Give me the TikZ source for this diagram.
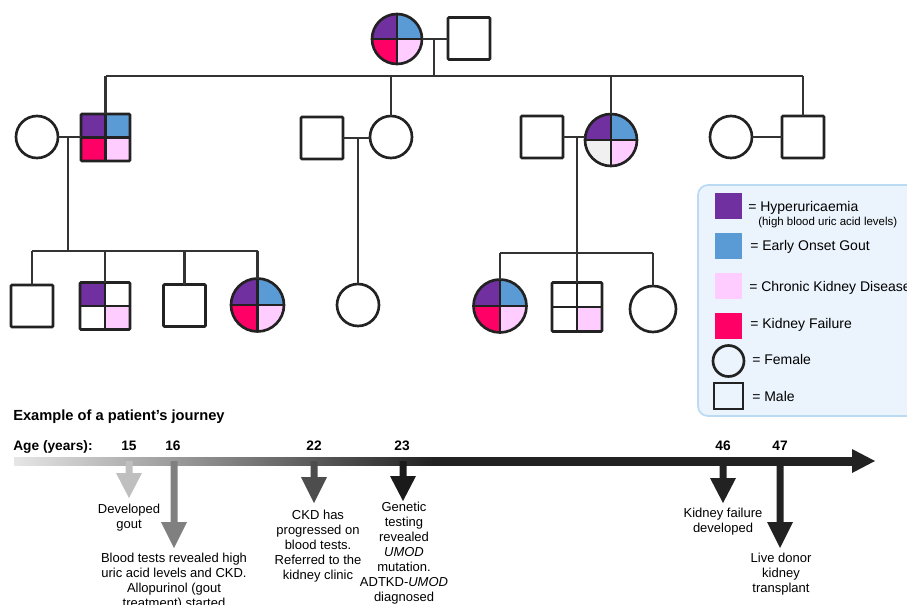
\documentclass[tikz,border=0pt]{standalone}
\usepackage{fontspec}
\setmainfont{Liberation Sans}
\definecolor{hyp}{HTML}{7030A0}
\definecolor{gout}{HTML}{5B9BD5}
\definecolor{ckd}{HTML}{FFCCFF}
\definecolor{kf}{HTML}{FF0066}
\definecolor{unk}{HTML}{F0F0F0}
\definecolor{lc}{HTML}{333333}
\definecolor{oc}{HTML}{222222}
\definecolor{legf}{HTML}{EBF3FC}
\definecolor{legb}{HTML}{BBDBF5}
\definecolor{tla}{HTML}{E6E6E6}
\definecolor{tlb}{HTML}{222222}
\definecolor{ev15}{HTML}{BFBFBF}
\definecolor{ev16}{HTML}{808080}
\definecolor{ev22}{HTML}{4D4D4D}
\definecolor{ev23}{HTML}{1A1A1A}
\definecolor{evlate}{HTML}{222222}
\pgfdeclarehorizontalshading{tlshade}{100bp}{color(0bp)=(tla); color(25bp)=(tla); color(50bp)=(tlb); color(100bp)=(tlb)}
% quartered circle: name, x, y, r, TL, TR, BL, BR
\newcommand{\qcirc}[8]{%
  \begin{scope}
    \clip (#2,#3) circle[radius=#4];
    \fill[#5] (#2,#3) rectangle ++(-#4,-#4);
    \fill[#6] (#2,#3) rectangle ++(#4,-#4);
    \fill[#7] (#2,#3) rectangle ++(-#4,#4);
    \fill[#8] (#2,#3) rectangle ++(#4,#4);
  \end{scope}
  \draw[divline] ({#2-#4},#3) -- ({#2+#4},#3) (#2,{#3-#4}) -- (#2,{#3+#4});
  \node[person, circle, minimum size={1.5pt*#4}] (#1) at (#2,#3) {};
}
% quartered square: name, x, y, w, h, TL, TR, BL, BR
\newcommand{\qsq}[9]{%
  \fill[#6] (#2,#3) rectangle ++({-#4/2},{-#5/2});
  \fill[#7] (#2,#3) rectangle ++({#4/2},{-#5/2});
  \fill[#8] (#2,#3) rectangle ++({-#4/2},{#5/2});
  \fill[#9] (#2,#3) rectangle ++({#4/2},{#5/2});
  \draw[divline] ({#2-#4/2},#3) -- ({#2+#4/2},#3) (#2,{#3-#5/2}) -- (#2,{#3+#5/2});
  \node[person, rectangle, rounded corners=0.8pt, minimum width={0.75pt*#4}, minimum height={0.75pt*#5}] (#1) at (#2,#3) {};
}
% event arrow: x, head top, tip, colour
\newcommand{\evarrow}[4]{%
  \fill[#4] ({#1-3.5},461) -- ({#1-3.5},#2) -- ({#1-13},#2) -- (#1,#3) -- ({#1+13},#2) -- ({#1+3.5},#2) -- ({#1+3.5},461) -- cycle;
}
\begin{document}
\begin{tikzpicture}[x=0.75pt,y=-0.75pt,
  pedline/.style={draw=lc, line width=1.75pt},
  divline/.style={draw=oc, line width=1.6pt},
  person/.style={draw=oc, line width=2pt, inner sep=0pt, outer sep=0pt},
  msq/.style={person, rectangle, rounded corners=0.8pt, minimum width=31.5pt, minimum height=31.5pt},
  fcirc/.style={person, circle, minimum size=31.5pt},
  legbox/.style={draw=legb, fill=legf, line width=1.3pt, rounded corners=7.5pt},
  legsq/.style={inner sep=0pt, outer sep=0pt, minimum width=20.25pt, minimum height=19.5pt},
  legtxt/.style={font=\fontsize{10.5}{12}\selectfont, inner sep=0pt, anchor=base west},
  legsub/.style={font=\fontsize{8.6}{10}\selectfont, inner sep=0pt, anchor=base west},
  ttl/.style={font=\bfseries\fontsize{11}{13}\selectfont, inner sep=0pt, anchor=base west},
  agelbl/.style={font=\bfseries\fontsize{10.3}{12}\selectfont, inner sep=0pt, anchor=base},
  evtxt/.style={font=\fontsize{9.75}{11.25}\selectfont, align=center, inner sep=0pt, anchor=north},
]
\useasboundingbox (0,0) rectangle (907,604);

% ---------------- Generation 1
\qcirc{gm}{397}{39}{25}{hyp}{gout}{kf}{ckd}
\node[msq] (gf) at (469,38.5) {};
\draw[pedline] (gm.east) -- (gm.east -| gf.west);
\coordinate (m0) at (434,39);
\coordinate (b0) at (434,76);
\draw[pedline] (m0) -- (b0);

% ---------------- Generation 2
\node[fcirc] (c1) at (37,137) {};
\qsq{s1}{105.5}{137.5}{49}{47}{hyp}{gout}{kf}{ckd}
\node[msq] (s2) at (322,138) {};
\node[fcirc] (c2) at (391,137) {};
\node[msq] (s3) at (542,137) {};
\qcirc{c3}{611}{140}{26}{hyp}{gout}{unk}{ckd}
\node[fcirc] (c4) at (731,137) {};
\node[msq] (s4) at (803,137) {};

\draw[pedline] (s1.north |- b0) -- (s4.north |- b0);
\foreach \n in {s1,c2,c3,s4} \draw[pedline] (\n.north) -- (\n.north |- b0);

\draw[pedline] (c1.east) -- (c1.east -| s1.west);
\draw[pedline] (s2.east) -- (s2.east -| c2.west);
\draw[pedline] (s3.east) -- (s3.east -| c3.west);
\draw[pedline] (c4.east) -- (s4.west);

% ---------------- Generation 3
\node[msq] (g3a) at (32,306) {};
\qsq{g3b}{105}{306}{50}{47}{hyp}{white}{white}{ckd}
\node[msq] (g3c) at (184.5,305.5) {};
\qcirc{g3d}{257.5}{305}{26.5}{hyp}{gout}{kf}{ckd}
\node[fcirc] (g3e) at (358,305) {};
\qcirc{g3f}{500}{306}{26.5}{hyp}{gout}{kf}{ckd}
\qsq{g3g}{577}{307}{50}{49}{white}{white}{white}{ckd}
\node[fcirc, minimum size=34.5pt] (g3h) at (653,309) {};

\coordinate (m1) at (68,137);
\coordinate (b1) at (68,251);
\draw[pedline] (m1) -- (b1);
\draw[pedline] (g3a.north |- b1) -- (g3d.north |- b1);
\foreach \n in {g3a,g3b,g3c,g3d} \draw[pedline] (\n.north) -- (\n.north |- b1);

\draw[pedline] (g3e.north) -- (g3e.north |- c2.center);

\coordinate (m3) at (577,137);
\coordinate (b3) at (577,253);
\draw[pedline] (m3) -- (b3);
\draw[pedline] (g3f.north |- b3) -- (g3h.north |- b3);
\foreach \n in {g3f,g3g,g3h} \draw[pedline] (\n.north) -- (\n.north |- b3);

% ---------------- Legend
\draw[legbox] (698,185) rectangle (935,416);
\node[legsq, fill=hyp] (lhyp) at (728.5,206) {};
\node[legsq, fill=gout] (lgout) at (728.5,246) {};
\node[legsq, fill=ckd] (lckd) at (728.5,286) {};
\node[legsq, fill=kf] (lkf) at (728.5,325.5) {};
\node[person, circle, minimum size=23.25pt] (lfem) at (728.5,361) {};
\node[person, rectangle, minimum width=21.75pt, minimum height=19.5pt] (lmal) at (728.5,396) {};
\node[legtxt] (thyp) at (748,211) {= Hyperuricaemia};
\node[legsub] (thyp2) at (758,225) {(high blood uric acid levels)};
\node[legtxt] (tgout) at (750,250) {= Early Onset Gout};
\node[legtxt] (tckd) at (749,291) {= Chronic Kidney Disease};
\node[legtxt] (tkf) at (750,328) {= Kidney Failure};
\node[legtxt] (tfem) at (752,364) {= Female};
\node[legtxt] (tmal) at (752,401) {= Male};

% ---------------- Timeline
\node[ttl] (title) at (13,420) {Example of a patient’s journey};
\node[agelbl, anchor=base west] (age) at (13,450) {Age (years):};
\node[agelbl] (a15) at (129,450) {15};
\node[agelbl] (a16) at (173,450) {16};
\node[agelbl] (a22) at (314,450) {22};
\node[agelbl] (a23) at (402,450) {23};
\node[agelbl] (a46) at (723,450) {46};
\node[agelbl] (a47) at (780,450) {47};

\shade[shading=tlshade] (14,457) rectangle (853,465);
\fill[tlb] (852,449) -- (875,461) -- (852,473) -- cycle;

\evarrow{129}{473}{498}{ev15}
\evarrow{174}{522}{548}{ev16}
\evarrow{314}{477}{503}{ev22}
\evarrow{403}{476}{501}{ev23}
\evarrow{723}{478}{503}{evlate}
\evarrow{780}{522}{548}{evlate}

\node[evtxt] (e15) at (129,503.5) {Developed\\gout};
\node[evtxt] (e16) at (174,552.5) {Blood tests revealed high\\uric acid levels and CKD.\\Allopurinol (gout\\treatment) started};
\node[evtxt] (e22) at (318,509.5) {CKD has\\progressed on\\blood tests.\\Referred to the\\kidney clinic};
\node[evtxt] (e23) at (404,501.5) {Genetic\\testing\\revealed\\\textit{UMOD}\\mutation.\\ADTKD-\textit{UMOD}\\diagnosed};
\node[evtxt] (e46) at (723,507.5) {Kidney failure\\developed};
\node[evtxt] (e47) at (781,552.5) {Live donor\\kidney\\transplant};
\end{tikzpicture}
\end{document}
